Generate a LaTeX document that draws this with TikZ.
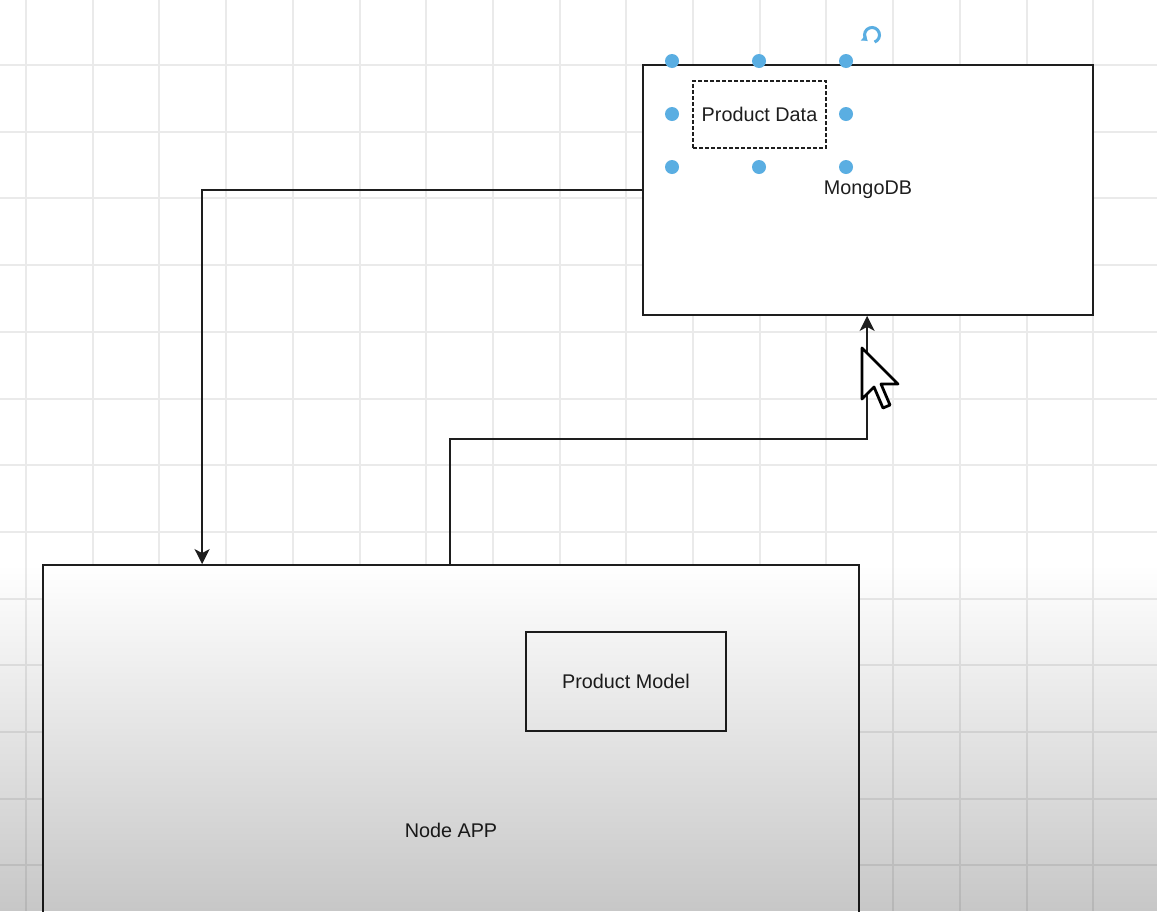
\documentclass[tikz,border=0pt]{standalone}
\usepackage{fontspec}
\setmainfont{Liberation Sans}
\usetikzlibrary{arrows.meta,fadings}
\definecolor{handleblue}{RGB}{90,174,226}
\definecolor{gridgray}{RGB}{234,234,234}
\definecolor{inkgray}{RGB}{30,30,30}
\tikzfading[name=fadedown, top color=transparent!100, bottom color=transparent!78]

\begin{document}
\begin{tikzpicture}[x=1pt, y=-1pt,
    box/.style ={rectangle, draw=inkgray, line width=1.8pt, fill=white, inner sep=0pt,
                 text=inkgray, font=\fontsize{19.8}{24}\selectfont},
    link/.style ={draw=inkgray, line width=1.8pt, -{Stealth[length=15pt,width=15pt,inset=4pt]}},
    handle/.style ={fill=handleblue}]
   \useasboundingbox (0,0) rectangle (1157,911);
   \clip (0,0) rectangle (1157,911);
   \fill[white] (0,0) rectangle (1157,911);
   \foreach \gx in {0,...,17}
      \draw[gridgray, line width=2pt] (26+66.7*\gx,0) -- (26+66.7*\gx,911);
   \foreach \gy in {1,...,13}
      \draw[gridgray, line width=2pt] (0,-1.7+66.7*\gy) -- (1157,-1.7+66.7*\gy);
   \node[box, minimum width=450pt, minimum height=250pt] (mongo) at (868,190) {MongoDB};
   \node[box, dash pattern=on 4pt off 2pt, line width=1.4pt, minimum width=133pt, minimum height=67pt] (pdata) at (759.5,114.5) {Product Data};
   \node[box, minimum width=816pt, minimum height=530pt] (napp) at (451,830) {Node APP};
   \node[box, minimum width=200pt, minimum height=99pt] (pmodel) at (626,681.5) {Product Model};
   \draw[link] (mongo.west) -| ([xshift=160pt]napp.north west);
   \draw[link] ([xshift=408pt]napp.north west) -- ++(0,-125) -| ([xshift=225pt]mongo.south west);
   \foreach \hp in {(672,61),(759,61),(846,61),(672,114),(846,114),(672,167),(759,167),(846,167)}
      \fill[handle] \hp circle (7pt);
   \draw[handleblue, line width=3pt, -{Triangle[length=5pt,width=8pt]}]
      (872,35) ++(70:7.5) arc[start angle=70, end angle=-230, radius=7.5];
   \draw[black, line width=2.8pt, line join=round, fill=white]
      (862,348) -- (862,399) -- (874,387) -- (883,408) -- (890,405) -- (881,384) -- (898,384) -- cycle;
   \fill[black, path fading=fadedown] (0,565) rectangle (1157,911);
\end{tikzpicture}
\end{document}
